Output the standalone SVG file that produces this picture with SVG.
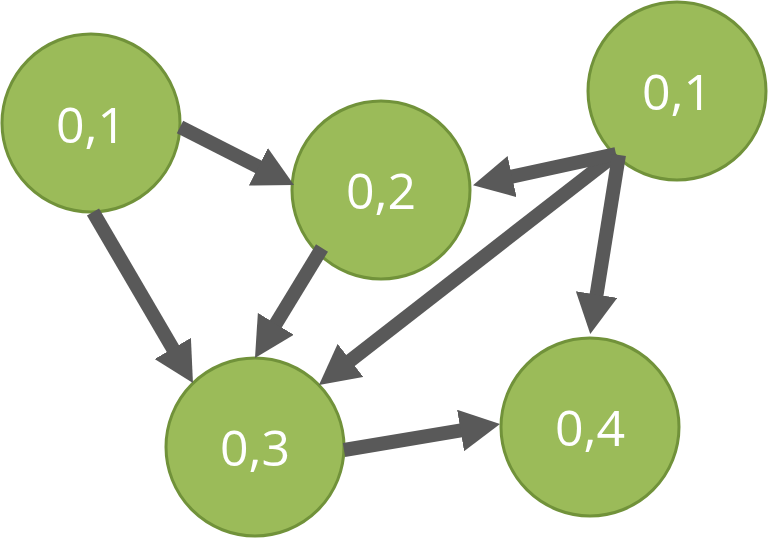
<svg xmlns="http://www.w3.org/2000/svg" width="768" height="539" viewBox="0 0 768 539">
<style>
.node circle{fill:#9bbb59;stroke:#71923a;stroke-width:3}
.node text{fill:#ffffff;font-family:"Open Sans","DejaVu Sans",sans-serif;font-size:50px;text-anchor:middle}
.edge{stroke:#595959;stroke-width:14;fill:none;marker-end:url(#ah)}
</style>
<defs>
<marker id="ah" markerUnits="userSpaceOnUse" viewBox="0 0 40 42" markerWidth="40" markerHeight="42" refX="5" refY="21" orient="auto">
<path d="M0,0 L40,21 L0,42 Z" fill="#595959"/>
</marker>
</defs>
<rect width="768" height="539" fill="#ffffff"/>
<g id="nA" class="node"><circle cx="91" cy="123" r="89"/><text x="91" y="143">0,1</text></g>
<g id="nB" class="node"><circle cx="381" cy="190" r="89"/><text x="381" y="209">0,2</text></g>
<g id="nC" class="node"><circle cx="677" cy="91" r="89"/><text x="677" y="110">0,1</text></g>
<g id="nD" class="node"><circle cx="255" cy="447" r="89"/><text x="255" y="466">0,3</text></g>
<g id="nE" class="node"><circle cx="590" cy="427" r="89"/><text x="590" y="446">0,4</text></g>
<g id="connectors">
<line class="edge" x1="180" y1="127" x2="262.8" y2="169.1"/>
<line class="edge" x1="93" y1="212" x2="175.3" y2="352.8"/>
<line class="edge" x1="322" y1="248" x2="273.2" y2="328.1"/>
<line class="edge" x1="616" y1="154" x2="346.6" y2="363.5"/>
<line class="edge" x1="616" y1="154" x2="507.2" y2="177.7"/>
<line class="edge" x1="619" y1="155" x2="595.8" y2="299.5"/>
<line class="edge" x1="344" y1="450" x2="465.5" y2="429.7"/>
</g>
</svg>
